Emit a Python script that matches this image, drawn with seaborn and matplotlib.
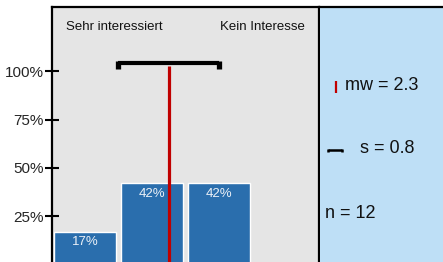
import numpy as np
import matplotlib
matplotlib.use("Agg")
import matplotlib.pyplot as plt
import seaborn as sns

# --- data ---
categories = ["1", "2", "3", "4"]
shares = [17, 42, 42, 0]          # percent of answers per category
share_labels = ["17%", "42%", "42%", ""]
mean_value = 2.25                 # shown as mw = 2.3
std_value = 0.754                 # shown as s = 0.8
n_answers = 12
yticks = [25, 50, 75, 100]
ytick_labels = ["25%", "50%", "75%", "100%"]
left_label = "Sehr interessiert"
right_label = "Kein Interesse"

sns.set_theme(style="white")
plt.rcParams["font.family"] = ["Liberation Sans", "DejaVu Sans"]

W, H = 443, 262
fig = plt.figure(figsize=(W / 100, H / 100), dpi=100)

# main grey panel
ax = fig.add_axes([52 / W, 0, 267 / W, 255 / H])
ax.set_facecolor("#E5E5E5")
sns.barplot(x=categories, y=shares, color="#2A6EAD", width=0.93,
            saturation=1, ax=ax)
ax.set_xlim(-0.5, 3.5)
ax.set_ylim(1.3, 133.3)

for i, lab in enumerate(share_labels):
    if lab:
        ax.annotate(lab, (i, shares[i]), xytext=(0, -7.5), textcoords="offset points",
                    ha="center", va="center", fontsize=9.5, color="#EAF0F7")

# mean line (category positions are 0-based in seaborn)
mean_pos = mean_value - 1
ax.plot([mean_pos, mean_pos], [0, 102.8], color="#C00000", lw=2.3,
        solid_capstyle="butt", zorder=5)
# std bracket
lo, hi = mean_pos - std_value, mean_pos + std_value
ax.plot([lo, hi], [104.3, 104.3], color="black", lw=3, solid_capstyle="butt", zorder=6)
for xe in (lo, hi):
    ax.plot([xe, xe], [105.3, 101.0], color="black", lw=3.8,
            solid_capstyle="butt", zorder=6)

ax.set_yticks(yticks)
ax.set_yticklabels(ytick_labels, fontsize=11)
ax.set_xticks([])
ax.set_xlabel("")
ax.set_ylabel("")
ax.tick_params(axis="y", direction="inout", length=10, width=1.5, color="black",
               pad=1, left=True)
for side in ("left", "top", "right"):
    ax.spines[side].set_visible(True)
    ax.spines[side].set_color("black")
    ax.spines[side].set_linewidth(1.6)
ax.spines["bottom"].set_visible(False)

ax.text(14 / 267, 1 - 20 / 255, left_label, transform=ax.transAxes,
        ha="left", va="center", fontsize=9.5, color="#111111")
ax.text(253 / 267, 1 - 20 / 255, right_label, transform=ax.transAxes,
        ha="right", va="center", fontsize=9.5, color="#111111")

# right info panel
ax2 = fig.add_axes([320 / W, 0, 123 / W, 255 / H])
ax2.set_facecolor("#BEDFF6")
ax2.set_xlim(0, 123)
ax2.set_ylim(262, 7)
ax2.set_xticks([])
ax2.set_yticks([])
for side in ("left", "bottom", "right"):
    ax2.spines[side].set_visible(False)
ax2.spines["top"].set_color("black")
ax2.spines["top"].set_linewidth(1.6)

ax2.plot([15.5, 15.5], [81, 93], color="#C00000", lw=1.6, solid_capstyle="butt")
ax2.text(25, 86, f"mw = {round(mean_value + 0.01, 1)}", ha="left", va="center",
         fontsize=13, color="#111111")

ax2.plot([8, 22], [149.5, 149.5], color="black", lw=1.8, solid_capstyle="butt")
for xe in (8, 22):
    ax2.plot([xe, xe], [149, 152], color="black", lw=1.8, solid_capstyle="butt")
ax2.text(40.5, 148.5, f"s = {std_value:.1f}", ha="left", va="center",
         fontsize=13, color="#111111")

ax2.text(5, 213, f"n = {n_answers}", ha="left", va="center",
         fontsize=13, color="#111111")

fig.savefig("out.png", dpi=100)
